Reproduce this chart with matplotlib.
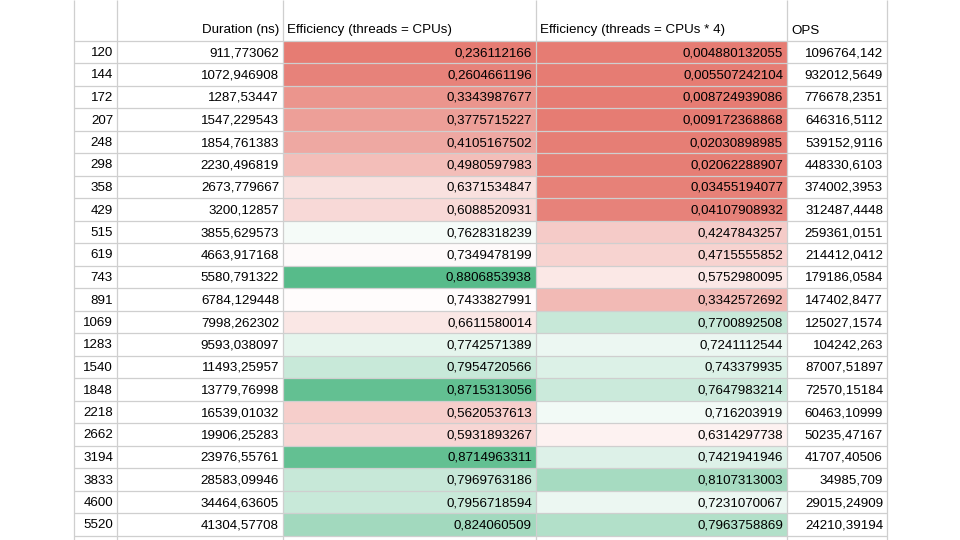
import matplotlib
matplotlib.use("Agg")
import matplotlib.pyplot as plt
from matplotlib.patches import Rectangle
from matplotlib.colors import LinearSegmentedColormap, TwoSlopeNorm

# ---------------- data ----------------
threads = [120, 144, 172, 207, 248, 298, 358, 429, 515, 619, 743, 891, 1069,
           1283, 1540, 1848, 2218, 2662, 3194, 3833, 4600, 5520]
duration_ns = [911.773062, 1072.946908, 1287.53447, 1547.229543, 1854.761383,
               2230.496819, 2673.779667, 3200.12857, 3855.629573, 4663.917168,
               5580.791322, 6784.129448, 7998.262302, 9593.038097, 11493.25957,
               13779.76998, 16539.01032, 19906.25283, 23976.55761, 28583.09946,
               34464.63605, 41304.57708]
eff_cpus = [0.236112166, 0.2604661196, 0.3343987677, 0.3775715227, 0.4105167502,
            0.4980597983, 0.6371534847, 0.6088520931, 0.7628318239, 0.7349478199,
            0.8806853938, 0.7433827991, 0.6611580014, 0.7742571389, 0.7954720566,
            0.8715313056, 0.5620537613, 0.5931893267, 0.8714963311, 0.7969763186,
            0.7956718594, 0.824060509]
eff_cpus4 = [0.004880132055, 0.005507242104, 0.008724939086, 0.009172368868,
             0.02030898985, 0.02062288907, 0.03455194077, 0.04107908932,
             0.4247843257, 0.4715555852, 0.5752980095, 0.3342572692, 0.7700892508,
             0.7241112544, 0.743379935, 0.7647983214, 0.716203919, 0.6314297738,
             0.7421941946, 0.8107313003, 0.7231070067, 0.7963758869]
ops = [1096764.142, 932012.5649, 776678.2351, 646316.5112, 539152.9116,
       448330.6103, 374002.3953, 312487.4448, 259361.0151, 214412.0412,
       179186.0584, 147402.8477, 125027.1574, 104242.263, 87007.51897,
       72570.15184, 60463.10999, 50235.47167, 41707.40506, 34985.709,
       29015.24909, 24210.39194]
headers = ["", "Duration (ns)", "Efficiency (threads = CPUs)",
           "Efficiency (threads = CPUs * 4)", "OPS"]

# ---------------- layout ----------------
W, H = 960, 540
col_edges = [74, 117, 283, 536, 787, 887]
header_bottom = 40.5
row_h = 22.5
grid_color = "#cfcfcf"
font = ["Liberation Sans", "DejaVu Sans"]
fs = 9.6

cmap = LinearSegmentedColormap.from_list("sheets", ["#E67C73", "#FFFFFF", "#57BB8A"])
norm3 = TwoSlopeNorm(vmin=min(eff_cpus), vcenter=0.755, vmax=max(eff_cpus))
norm4 = TwoSlopeNorm(vmin=min(eff_cpus4), vcenter=0.70, vmax=0.91)

fig = plt.figure(figsize=(W / 100, H / 100), dpi=100)
ax = fig.add_axes([0, 0, 1, 1])
ax.set_xlim(0, W)
ax.set_ylim(H, 0)
ax.axis("off")


def fmt(v):
    return f"{v:.10g}".replace(".", ",")


# colored cells
for i in range(len(threads)):
    top = header_bottom + i * row_h
    for c, vals, nrm in ((2, eff_cpus, norm3), (3, eff_cpus4, norm4)):
        ax.add_patch(Rectangle((col_edges[c], top), col_edges[c + 1] - col_edges[c],
                               row_h, facecolor=cmap(nrm(vals[i])), edgecolor="none",
                               zorder=1))

# grid lines
y = header_bottom
while y <= H:
    ax.plot([col_edges[0], col_edges[-1]], [y, y], color=grid_color, lw=0.9, zorder=2,
            solid_capstyle="butt")
    y += row_h
for x in col_edges:
    ax.plot([x, x], [0, H], color=grid_color, lw=0.9, zorder=2, solid_capstyle="butt")

# header text
pad = 4
hb = header_bottom - 7
ax.text(col_edges[2] - pad, hb, headers[1], ha="right", va="baseline",
        fontsize=fs, family=font, color="#000000", zorder=3)
for c in (2, 3, 4):
    ax.text(col_edges[c] + pad, hb, headers[c], ha="left", va="baseline",
            fontsize=fs, family=font, color="#000000", zorder=3)

# data text
for i in range(len(threads)):
    base = header_bottom + (i + 1) * row_h - 7
    cells = [str(threads[i]), fmt(duration_ns[i]), fmt(eff_cpus[i]),
             fmt(eff_cpus4[i]), fmt(ops[i])]
    for c, s in enumerate(cells):
        ax.text(col_edges[c + 1] - pad, base, s, ha="right", va="baseline",
                fontsize=fs, family=font, color="#000000", zorder=3)

fig.savefig("out.png", dpi=100)
